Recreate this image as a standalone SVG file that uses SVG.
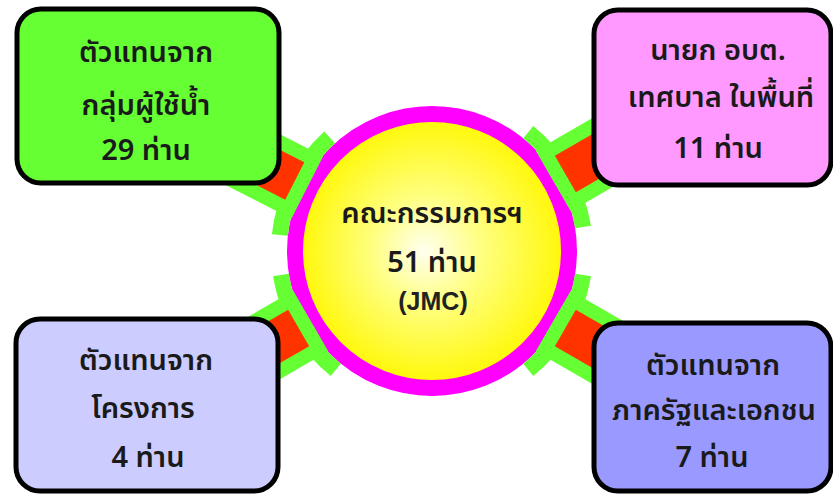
<svg xmlns="http://www.w3.org/2000/svg" xmlns:xlink="http://www.w3.org/1999/xlink" width="833" height="495" viewBox="0 0 833 495">
<defs>
<radialGradient id="sun" cx="0.5" cy="0.5" r="0.5" fx="0.47" fy="0.5">
<stop offset="0" stop-color="#FFFFF0"/>
<stop offset="0.4" stop-color="#FFFF80"/>
<stop offset="1" stop-color="#FFF700"/>
</radialGradient>
<g id="conn">
<rect x="140" y="-35" width="95" height="70" fill="#66FF33"/>
<path d="M142.8,-54.8 A153,153 0 0 1 142.8,54.8" fill="none" stroke="#66FF33" stroke-width="16"/>
<path d="M154,-21 L235,-21 L235,21 L154,21 Z" fill="#FF3300"/>
</g>
</defs>
<style>
.box{stroke:#000;stroke-width:5}
.t{font-family:"Noto Sans Thai","Tahoma","Loma","Garuda","DejaVu Sans",sans-serif;font-size:29px;font-weight:600;fill:#1a1a1a;text-anchor:middle}
.jmc{font-family:"Liberation Sans",Arial,sans-serif;font-weight:bold;font-size:25px;fill:#222;text-anchor:middle}
</style>
<rect width="833" height="495" fill="#fff"/>
<g id="hub">
<circle cx="432" cy="251" r="137" fill="url(#sun)" stroke="#FF00FF" stroke-width="16"/>
</g>
<g id="connectors">
<use xlink:href="#conn" transform="translate(432,251) rotate(207)"/>
<use xlink:href="#conn" transform="translate(432,251) rotate(-30)"/>
<use xlink:href="#conn" transform="translate(432,251) rotate(150)"/>
<use xlink:href="#conn" transform="translate(432,251) rotate(30)"/>
</g>
<g id="hubtext">
<text class="t" x="432" y="223">คณะกรรมการฯ</text>
<text class="t" x="432" y="272">51 ท่าน</text>
<text class="jmc" x="433" y="310">(JMC)</text>
</g>
<g id="water">
<rect class="box" x="17" y="9" width="262" height="174" rx="24" fill="#66FF33"/>
<text class="t" x="146" y="62">ตัวแทนจาก</text>
<text class="t" x="146" y="115">กลุ่มผู้ใช้น้ำ</text>
<text class="t" x="146" y="160">29 ท่าน</text>
</g>
<g id="mayor">
<rect class="box" x="594" y="10" width="237" height="175" rx="24" fill="#FF99FF"/>
<text class="t" x="718" y="60">นายก อบต.</text>
<text class="t" x="721" y="107">เทศบาล ในพื้นที่</text>
<text class="t" x="718" y="158">11 ท่าน</text>
</g>
<g id="project">
<rect class="box" x="16" y="319" width="262" height="172" rx="24" fill="#CCCCFF"/>
<text class="t" x="146" y="370">ตัวแทนจาก</text>
<text class="t" x="143" y="418">โครงการ</text>
<text class="t" x="148" y="467">4 ท่าน</text>
</g>
<g id="public">
<rect class="box" x="594" y="323" width="237" height="168" rx="24" fill="#9999FF"/>
<text class="t" x="713" y="375">ตัวแทนจาก</text>
<text class="t" x="714" y="420">ภาครัฐและเอกชน</text>
<text class="t" x="712" y="467">7 ท่าน</text>
</g>
</svg>
